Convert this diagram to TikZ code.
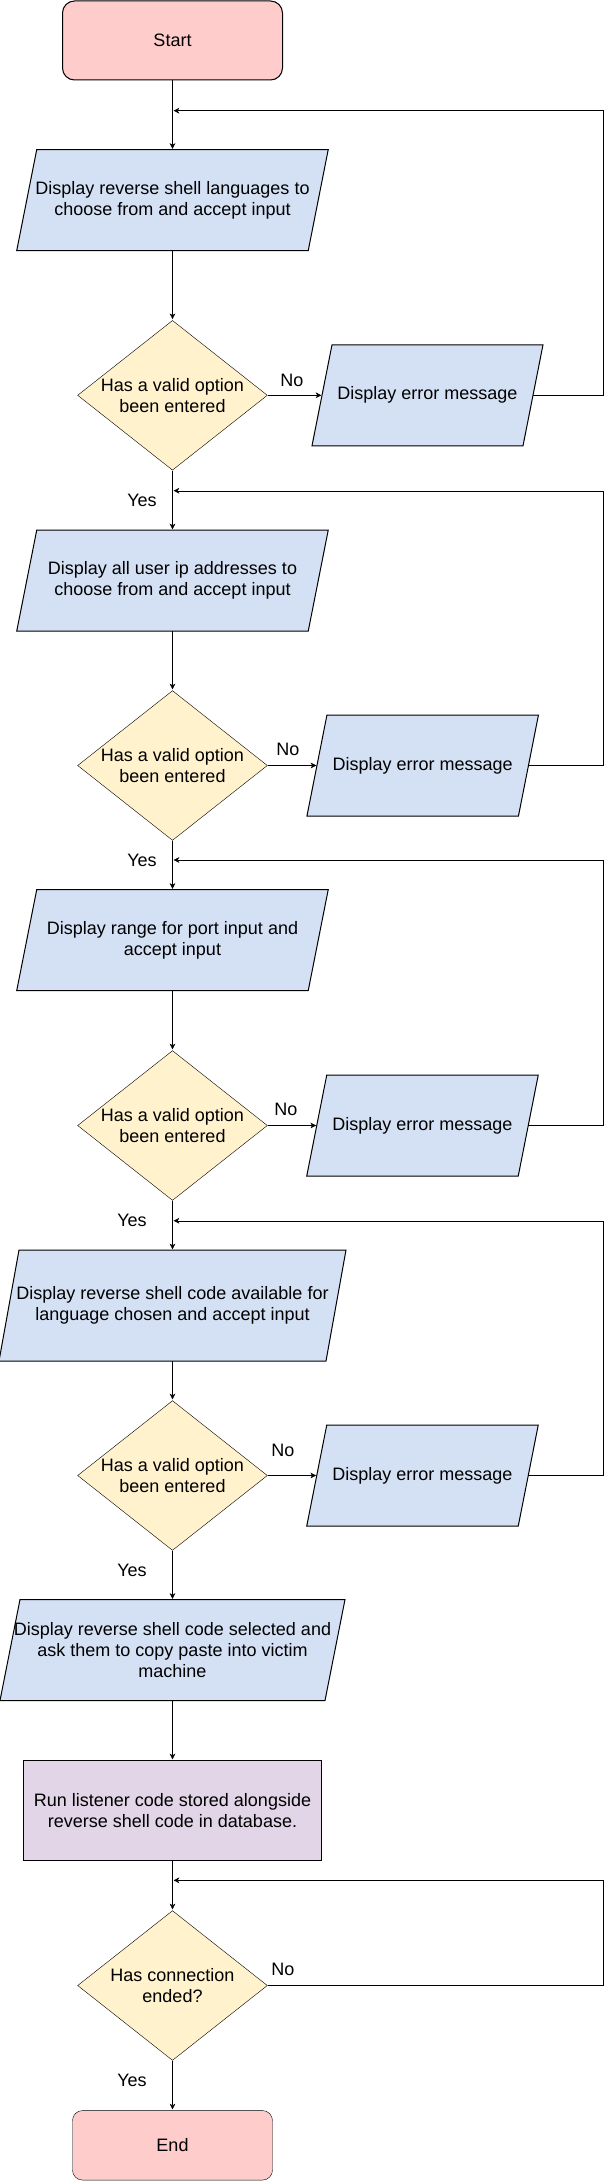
\documentclass[tikz,border=0pt]{standalone}
\usepackage{fontspec}
\setmainfont{Liberation Sans}
\usetikzlibrary{shapes.geometric,arrows.meta,backgrounds}
\definecolor{pinkf}{HTML}{FFCCCC}
\definecolor{bluef}{HTML}{D4E1F5}
\definecolor{yelf}{HTML}{FFF2CC}
\definecolor{purf}{HTML}{E1D5E7}
\begin{document}
\begin{tikzpicture}[x=1pt,y=-1pt, font=\fontsize{18}{21}\selectfont, line width=1pt,
  term/.style={rectangle, rounded corners=12pt, draw, fill=pinkf, inner sep=0pt},
  para/.style={rectangle, draw=none, inner sep=0pt, align=center, minimum width=#1,
    append after command={\pgfextra{\begin{pgfonlayer}{background}
      \draw[line width=1pt, fill=bluef] ([xshift=10pt]\tikzlastnode.north west) -- ([xshift=10pt]\tikzlastnode.north east) -- ([xshift=-10pt]\tikzlastnode.south east) -- ([xshift=-10pt]\tikzlastnode.south west) -- cycle;
    \end{pgfonlayer}}}},
  dec/.style={diamond, draw, fill=yelf, inner sep=0pt, minimum width=190pt, minimum height=150pt},
  proc/.style={rectangle, draw, fill=purf, align=center, inner sep=0pt},
  arr/.style={-{Stealth[length=7pt,width=7pt,inset=2pt]}},
  lbl/.style={inner sep=0pt}
]
\useasboundingbox (0,0) rectangle (613,2181);
\coordinate (rx) at (603,0);
% nodes
\node[term, minimum width=220pt, minimum height=79pt] (start) at (172.5,40.5) {Start};
\node[para=290.5pt, minimum height=100pt] (p1) at (172.5,200) {Display reverse shell languages to\\choose from and accept input};
\node[dec, label={[align=center]center:{Has a valid option\\been entered}}] (d1) at (172.5,395.3) {};
\node[para=210pt, minimum height=100pt] (e1) at (427.5,395.3) {Display error message};

\node[para=290.5pt, minimum height=100pt] (p2) at (172.5,580.5) {Display all user ip addresses to\\choose from and accept input};
\node[dec, label={[align=center]center:{Has a valid option\\been entered}}] (d2) at (172.5,765.5) {};
\node[para=210.5pt, minimum height=100pt] (e2) at (422.7,765.5) {Display error message};

\node[para=290.5pt, minimum height=100pt] (p3) at (172.5,940) {Display range for port input and\\accept input};
\node[dec, label={[align=center]center:{Has a valid option\\been entered}}] (d3) at (172.5,1125.5) {};
\node[para=210.5pt, minimum height=100pt] (e3) at (422.5,1125.5) {Display error message};

\node[para=326pt, minimum height=110pt] (p4) at (172.5,1305.5) {Display reverse shell code available for\\language chosen and accept input};
\node[dec, label={[align=center]center:{Has a valid option\\been entered}}] (d4) at (172.5,1475.5) {};
\node[para=210.5pt, minimum height=100pt] (e4) at (422.5,1475.5) {Display error message};

\node[para=324pt, minimum height=100pt] (p5) at (172.5,1650) {Display reverse shell code selected and\\ask them to copy paste into victim\\machine};
\node[proc, minimum width=298pt, minimum height=100pt] (run) at (172.5,1810.5) {Run listener code stored alongside\\reverse shell code in database.};
\node[dec, label={[align=center]center:{Has connection\\ended?}}] (d5) at (172.5,1985.5) {};
\node[term, rounded corners=10pt, minimum width=200pt, minimum height=69.5pt] (stop) at (172.5,2145.3) {End};

% loop join points
\coordinate (j1) at (173,110.7);
\coordinate (j2) at (173,490.7);
\coordinate (j3) at (173,860);
\coordinate (j4) at (173,1220.7);
\coordinate (j5) at (173,1880.3);

% labels
\node[lbl] (no1) at (292,380) {No};
\node[lbl] (no2) at (288,749) {No};
\node[lbl] (no3) at (286,1109) {No};
\node[lbl] (no4) at (283,1450) {No};
\node[lbl] (no5) at (283,1969) {No};
\node[lbl] (yes1) at (142,500) {Yes};
\node[lbl] (yes2) at (142,860) {Yes};
\node[lbl] (yes3) at (132,1220) {Yes};
\node[lbl] (yes4) at (132,1570) {Yes};
\node[lbl] (yes5) at (132,2080) {Yes};

% connectors
\draw[arr] (start.south) -- (p1.north);
\draw[arr] (p1.south) -- (d1.north);
\draw[arr] (d1.east) -- (e1.west);
\draw[arr] (e1.east) -- (e1.east -| rx) |- (j1);
\draw[arr] (d1.south) -- (p2.north);

\draw[arr] (p2.south) -- (d2.north);
\draw[arr] (d2.east) -- (e2.west);
\draw[arr] (e2.east) -- (e2.east -| rx) |- (j2);
\draw[arr] (d2.south) -- (p3.north);

\draw[arr] (p3.south) -- (d3.north);
\draw[arr] (d3.east) -- (e3.west);
\draw[arr] (e3.east) -- (e3.east -| rx) |- (j3);
\draw[arr] (d3.south) -- (p4.north);

\draw[arr] (p4.south) -- (d4.north);
\draw[arr] (d4.east) -- (e4.west);
\draw[arr] (e4.east) -- (e4.east -| rx) |- (j4);
\draw[arr] (d4.south) -- (p5.north);

\draw[arr] (p5.south) -- (run.north);
\draw[arr] (run.south) -- (d5.north);
\draw[arr] (d5.east) -- (d5.east -| rx) |- (j5);
\draw[arr] (d5.south) -- (stop.north);
\end{tikzpicture}
\end{document}
